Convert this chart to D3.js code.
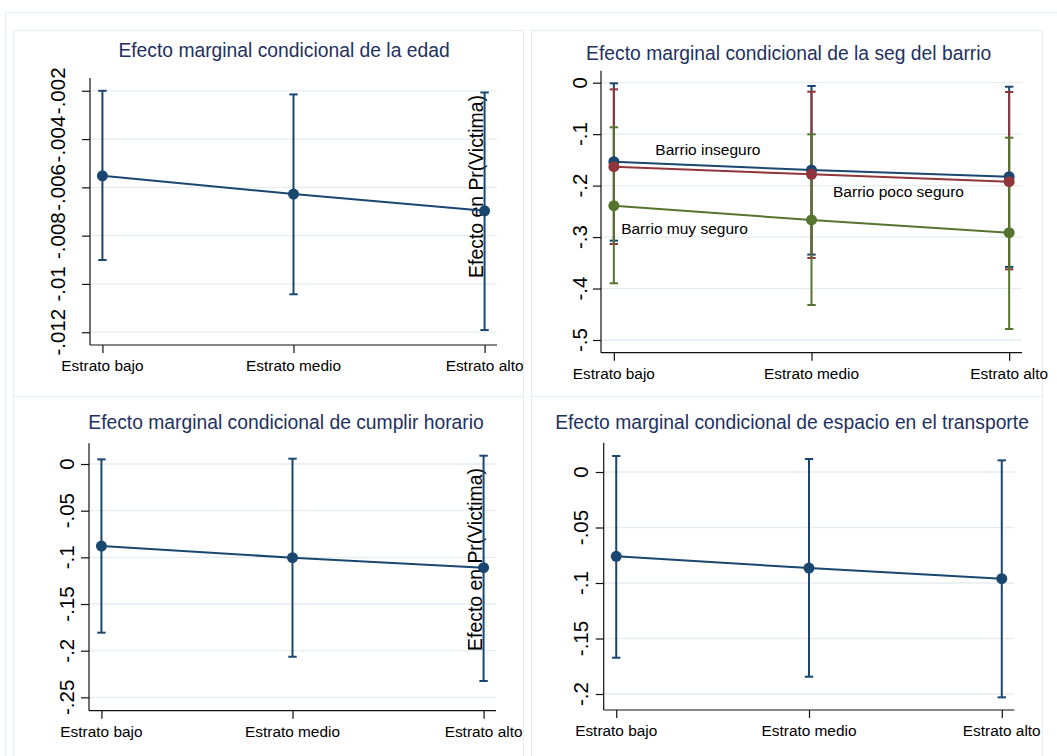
<!DOCTYPE html>
<html>
<head>
<meta charset="utf-8">
<script src="https://cdn.jsdelivr.net/npm/d3@7"></script>
<style>
  body { margin: 0; background: #fff; }
  svg { display: block; }
  text { font-family: "Liberation Sans", Arial, sans-serif; }
</style>
</head>
<body>
<svg id="chart" width="1057" height="756"></svg>
<script>
// Categories on the horizontal axis
const estratos = ["Estrato bajo", "Estrato medio", "Estrato alto"];

// Panel 1: edad
const edadEfecto = [-0.00552, -0.00628, -0.00697];
const edadInf = [-0.00901, -0.01043, -0.01191];
const edadSup = [-0.00200, -0.00215, -0.00207];
const edadTicks = [-0.012, -0.01, -0.008, -0.006, -0.004, -0.002];
const edadTickLabels = ["-.012", "-.01", "-.008", "-.006", "-.004", "-.002"];
const edadEje = [-0.01253, -0.00147];

// Panel 2: seguridad del barrio (three groups)
const barrioSeries = ["Barrio inseguro", "Barrio poco seguro", "Barrio muy seguro"];
const barrioEfecto = [
  [-0.1535, -0.1697, -0.1827],
  [-0.1632, -0.1780, -0.1924],
  [-0.2390, -0.2668, -0.2915]
];
const barrioInf = [
  [-0.3070, -0.3340, -0.3580],
  [-0.3135, -0.3407, -0.3627],
  [-0.3898, -0.4320, -0.4786]
];
const barrioSup = [
  [-0.0012, -0.0064, -0.0078],
  [-0.0129, -0.0175, -0.0181],
  [-0.0867, -0.1003, -0.1069]
];
const barrioTicks = [0, -0.1, -0.2, -0.3, -0.4, -0.5];
const barrioTickLabels = ["0", "-.1", "-.2", "-.3", "-.4", "-.5"];
const barrioEje = [-0.5247, 0.0233];
// where each group's name is written, in axis units (estrato position, effect)
const barrioEtiquetaX = [1.21, 2.109, 1.037];
const barrioEtiquetaY = [-0.1405, -0.2215, -0.294];

// Panel 3: cumplir horario
const horarioEfecto = [-0.0879, -0.1004, -0.1111];
const horarioInf = [-0.1807, -0.2065, -0.2325];
const horarioSup = [0.0050, 0.0057, 0.0089];
const horarioTicks = [0, -0.05, -0.1, -0.15, -0.2, -0.25];
const horarioTickLabels = ["0", "-.05", "-.1", "-.15", "-.2", "-.25"];
const horarioEje = [-0.2643, 0.0222];

// Panel 4: espacio en el transporte
const transporteEfecto = [-0.0760, -0.0865, -0.0961];
const transporteInf = [-0.1673, -0.1844, -0.2030];
const transporteSup = [0.0144, 0.0117, 0.0105];
const transporteTicks = [0, -0.05, -0.1, -0.15, -0.2];
const transporteTickLabels = ["0", "-.05", "-.1", "-.15", "-.2"];
const transporteEje = [-0.2144, 0.0264];

const yTitle = "Efecto en Pr(Victima)";
const colores = ["#1a476f", "#90353b", "#55752f"];

const svg = d3.select("#chart");

// light frames of the combined graph
const frameColor = "#e4ecee";
svg.append("rect").attr("x", 5.5).attr("y", 12.5).attr("width", 1080).attr("height", 780)
  .attr("fill", "none").attr("stroke", frameColor);
[[13.5, 30.5, 510, 366], [531.5, 30.5, 511, 366], [13.5, 396.5, 510, 400], [531.5, 396.5, 511, 400]]
  .forEach(([x, y, w, h]) => svg.append("rect").attr("x", x).attr("y", y).attr("width", w).attr("height", h)
    .attr("fill", "#fff").attr("stroke", frameColor));

const panels = [
  {
    title: "Efecto marginal condicional de la edad",
    box: { left: 90, right: 497, top: 78, bottom: 345 },
    titlePos: [284, 56.7], yLabelX: 65,
    domain: edadEje, ticks: edadTicks, tickLabels: edadTickLabels,
    series: [{ efecto: edadEfecto, inf: edadInf, sup: edadSup, color: colores[0] }],
    yTitlePos: [483, 186.5]
  },
  {
    title: "Efecto marginal condicional de la seg del barrio",
    box: { left: 601, right: 1022, top: 70.7, bottom: 352.7 },
    titlePos: [788.7, 60], yLabelX: 587,
    domain: barrioEje, ticks: barrioTicks, tickLabels: barrioTickLabels,
    series: barrioSeries.map((name, i) => ({
      name, efecto: barrioEfecto[i], inf: barrioInf[i], sup: barrioSup[i], color: colores[i],
      etiqueta: [barrioEtiquetaX[i], barrioEtiquetaY[i]]
    }))
  },
  {
    title: "Efecto marginal condicional de cumplir horario",
    box: { left: 89, right: 496, top: 443.3, bottom: 710.7 },
    titlePos: [286, 429.3], yLabelX: 74,
    domain: horarioEje, ticks: horarioTicks, tickLabels: horarioTickLabels,
    series: [{ efecto: horarioEfecto, inf: horarioInf, sup: horarioSup, color: colores[0] }],
    yTitlePos: [482, 559.5]
  },
  {
    title: "Efecto marginal condicional de espacio en el transporte",
    box: { left: 603.7, right: 1014.3, top: 442.7, bottom: 710 },
    titlePos: [792, 429.3], yLabelX: 588,
    domain: transporteEje, ticks: transporteTicks, tickLabels: transporteTickLabels,
    series: [{ efecto: transporteEfecto, inf: transporteInf, sup: transporteSup, color: colores[0] }]
  }
];

const xPad = 0.065;

panels.forEach(p => {
  const g = svg.append("g");
  const b = p.box;
  const x = d3.scaleLinear().domain([1 - xPad, estratos.length + xPad]).range([b.left, b.right]);
  const y = d3.scaleLinear().domain(p.domain).range([b.bottom, b.top]);

  // title
  g.append("text").attr("x", p.titlePos[0]).attr("y", p.titlePos[1])
    .attr("text-anchor", "middle").attr("font-size", 19.3).attr("fill", "#1e3160")
    .text(p.title);

  // horizontal gridlines
  g.selectAll(".grid").data(p.ticks).join("line")
    .attr("x1", b.left).attr("x2", b.right)
    .attr("y1", d => y(d)).attr("y2", d => y(d))
    .attr("stroke", "#e6eef0").attr("stroke-width", 1.3);

  // y axis
  const yAxis = d3.axisLeft(y).tickValues(p.ticks).tickSize(8).tickFormat("");
  const ya = g.append("g").attr("transform", `translate(${b.left},0)`).call(yAxis);
  ya.select(".domain").attr("d", `M0,${b.top}V${b.bottom}`).attr("stroke", "#111").attr("stroke-width", 1.2);
  ya.selectAll(".tick line").attr("stroke", "#111").attr("stroke-width", 1.2);
  g.selectAll(".ylab").data(p.ticks).join("text")
    .attr("transform", (d) => `translate(${p.yLabelX},${y(d)}) rotate(-90)`)
    .attr("text-anchor", "middle").attr("font-size", 20.5).attr("fill", "#000")
    .text((d, i) => p.tickLabels[i]);

  // x axis
  const xAxis = d3.axisBottom(x).tickValues(d3.range(1, estratos.length + 1)).tickSize(8).tickFormat("");
  const xa = g.append("g").attr("transform", `translate(0,${b.bottom})`).call(xAxis);
  xa.select(".domain").attr("d", `M${b.left},0H${b.right}`).attr("stroke", "#111").attr("stroke-width", 1.2);
  xa.selectAll(".tick line").attr("stroke", "#111").attr("stroke-width", 1.2);
  g.selectAll(".xlab").data(estratos).join("text")
    .attr("x", (d, i) => x(i + 1)).attr("y", b.bottom + 26)
    .attr("text-anchor", "middle").attr("font-size", 15.4).attr("fill", "#000")
    .text(d => d);

  // y-axis title
  if (p.yTitlePos) {
    g.append("text")
      .attr("transform", `translate(${p.yTitlePos[0]},${p.yTitlePos[1]}) rotate(-90)`)
      .attr("text-anchor", "middle").attr("font-size", 19.4).attr("fill", "#000")
      .text(yTitle);
  }

  // confidence intervals (capped)
  p.series.forEach(s => {
    const ci = g.append("g").attr("stroke", s.color).attr("stroke-width", 2).attr("fill", "none");
    s.efecto.forEach((v, i) => {
      const cx = x(i + 1);
      ci.append("line").attr("x1", cx).attr("x2", cx).attr("y1", y(s.sup[i])).attr("y2", y(s.inf[i]));
      ci.append("line").attr("x1", cx - 4.2).attr("x2", cx + 4.2).attr("y1", y(s.sup[i])).attr("y2", y(s.sup[i]));
      ci.append("line").attr("x1", cx - 4.2).attr("x2", cx + 4.2).attr("y1", y(s.inf[i])).attr("y2", y(s.inf[i]));
    });
  });

  // point estimates joined by lines
  p.series.forEach(s => {
    const line = d3.line().x((d, i) => x(i + 1)).y(d => y(d));
    g.append("path").attr("d", line(s.efecto)).attr("fill", "none")
      .attr("stroke", s.color).attr("stroke-width", 2);
    g.selectAll(null).data(s.efecto).join("circle")
      .attr("cx", (d, i) => x(i + 1)).attr("cy", d => y(d)).attr("r", 5.5)
      .attr("fill", s.color);
  });

  // group names
  p.series.filter(s => s.etiqueta).forEach(s => {
    g.append("text").attr("x", x(s.etiqueta[0])).attr("y", y(s.etiqueta[1]))
      .attr("font-size", 15.5).attr("fill", "#000").text(s.name);
  });
});
</script>
</body>
</html>
